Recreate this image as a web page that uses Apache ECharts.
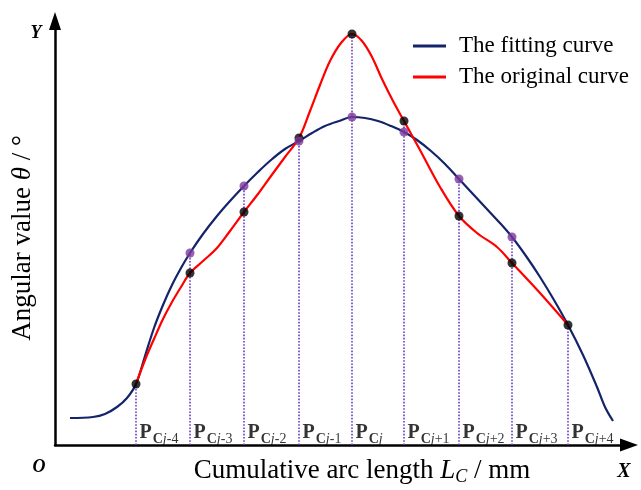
<!DOCTYPE html>
<html>
<head>
<meta charset="utf-8">
<script src="https://cdn.jsdelivr.net/npm/echarts@6/dist/echarts.min.js"></script>
<style>html,body{margin:0;padding:0;background:#fff;}#c{width:641px;height:490px;}</style>
</head>
<body>
<div id="c"></div>
<script>
// Knot positions along the arc (schematic units) and curve values at the knots
const knotX = [81, 135, 189, 244, 297, 349, 404, 457, 513];
const originalAtKnots = [61, 172, 233, 307, 411, 324, 229, 182, 120];
const fittingAtKnots = [61, 192, 259, 304, 328, 313, 266, 208, 120];
const knotSuffix = ['-4', '-3', '-2', '-1', '', '+1', '+2', '+3', '+4'];

// The fitting curve (schematic samples)
const fittingX = [15, 38, 50, 62, 72, 81, 90, 99, 108, 117, 126, 135, 148, 162, 175, 189, 203, 216, 230, 244, 257, 270, 284, 297, 310, 323, 336, 349, 362, 376, 390, 404, 417, 430, 444, 457, 471, 485, 499, 513, 528, 542, 550, 558];
const fittingY = [27, 28, 31, 38, 47, 61, 89, 117, 140, 160, 177, 192, 211, 229, 244, 259, 273, 285, 296, 304, 312, 319, 324, 328, 327, 324, 319, 313, 305, 294, 281, 266, 252, 238, 223, 208, 189, 168, 145, 120, 90, 58, 38, 24];

// The original curve (schematic samples)
const originalX = [81, 90, 99, 108, 117, 126, 135, 148, 162, 175, 189, 203, 216, 230, 244, 255, 265, 275, 286, 297, 307, 317, 327, 338, 349, 365, 385, 404, 422, 442, 457, 485, 513];
const originalY = [61, 85, 106, 126, 143, 158, 172, 184, 197, 214, 233, 251, 269, 288, 307, 334, 360, 384, 402, 411, 404, 388, 366, 344, 324, 295, 258, 229, 212, 198, 182, 152, 120];

const legendNames = ['The fitting curve', 'The original curve'];

const SERIF = '"Liberation Serif", "Times New Roman", serif';
const zip = (xs, ys) => xs.map((x, i) => [x, ys[i]]);

const chart = echarts.init(document.getElementById('c'), null, {renderer: 'canvas'});

const dotted = knotX.map((x, i) => [
  {coord: [x, 0]},
  {coord: [x, Math.max(originalAtKnots[i], fittingAtKnots[i])]}
]);

const purpleIdx = [1, 2, 3, 4, 5, 6, 7];

chart.setOption({
  animation: false,
  backgroundColor: '#fff',
  grid: {left: 55, right: 12, top: 21, bottom: 45},
  xAxis: {
    type: 'value', min: 0, max: 574,
    axisLine: {show: true, lineStyle: {color: '#000', width: 2.5}, symbol: ['none', 'triangle'], symbolSize: [13, 18]},
    axisTick: {show: false}, axisLabel: {show: false}, splitLine: {show: false}
  },
  yAxis: {
    type: 'value', min: 0, max: 424,
    axisLine: {show: true, lineStyle: {color: '#000', width: 2.5}, symbol: ['none', 'triangle'], symbolSize: [12, 18]},
    axisTick: {show: false}, axisLabel: {show: false}, splitLine: {show: false}
  },
  legend: {
    data: legendNames,
    orient: 'vertical', left: 408, top: 29,
    icon: 'rect', itemWidth: 33, itemHeight: 3, itemGap: 7,
    textStyle: {fontFamily: SERIF, fontSize: 23, color: '#000', lineHeight: 24, padding: [0, 0, 0, 8]}
  },
  series: [
    {
      type: 'line', name: 'guides', data: [], silent: true, z: 1,
      markLine: {
        silent: true, symbol: ['none', 'none'], label: {show: false},
        lineStyle: {type: 'dotted', color: '#6a3cc0', width: 1.6},
        data: dotted
      }
    },
    {
      type: 'line', name: legendNames[0], data: zip(fittingX, fittingY),
      smooth: 0.35, showSymbol: false, z: 3,
      lineStyle: {color: '#14246b', width: 2.2}, itemStyle: {color: '#14246b'}
    },
    {
      type: 'line', name: legendNames[1], data: zip(originalX, originalY),
      smooth: 0.35, showSymbol: false, z: 3,
      lineStyle: {color: '#ff0000', width: 2.2}, itemStyle: {color: '#ff0000'}
    },
    {
      type: 'scatter', name: 'original knots', data: zip(knotX, originalAtKnots),
      symbolSize: 9, z: 5, itemStyle: {color: '#000'}
    },
    {
      type: 'scatter', name: 'fitting knots', data: purpleIdx.map(i => [knotX[i], fittingAtKnots[i]]),
      symbolSize: 9, z: 6, itemStyle: {color: '#7a3a9c'}
    },
    {
      type: 'scatter', name: 'knot labels', data: knotX.map(x => [x, 13]),
      symbolSize: 1, itemStyle: {color: 'rgba(0,0,0,0)'}, silent: true, z: 7,
      label: {
        show: true, position: 'right', distance: 3,
        formatter: p => '{p|P}{c|C}{j|j}{n|' + knotSuffix[p.dataIndex] + '}',
        rich: {
          p: {fontFamily: SERIF, fontWeight: 'bold', fontSize: 20, color: '#000', lineHeight: 22, verticalAlign: 'bottom'},
          c: {fontFamily: SERIF, fontWeight: 'bold', fontSize: 14, color: '#000', lineHeight: 14, verticalAlign: 'bottom', padding: [0, 0, -3, 1]},
          j: {fontFamily: SERIF, fontStyle: 'italic', fontSize: 14, color: '#000', lineHeight: 14, verticalAlign: 'bottom', padding: [0, 0, -3, 0]},
          n: {fontFamily: SERIF, fontSize: 14, color: '#000', lineHeight: 14, verticalAlign: 'bottom', padding: [0, 0, -3, 0]}
        }
      }
    }
  ],
  graphic: [
    {type: 'text', x: 362, y: 471, style: {
      text: 'Cumulative arc length {i|L}{s|C} / mm', align: 'center', verticalAlign: 'middle',
      font: '27px ' + SERIF, fill: '#000',
      rich: {i: {fontFamily: SERIF, fontStyle: 'italic', fontSize: 27}, s: {fontFamily: SERIF, fontStyle: 'italic', fontSize: 18, padding: [12, 0, 0, 0]}}
    }},
    {type: 'text', x: 23, y: 238, rotation: Math.PI / 2, style: {
      text: 'Angular value {i|θ} / °', align: 'center', verticalAlign: 'middle',
      font: '27px ' + SERIF, fill: '#000',
      rich: {i: {fontFamily: SERIF, fontStyle: 'italic', fontSize: 27}}
    }},
    {type: 'text', x: 36, y: 33, style: {text: 'Y', align: 'center', verticalAlign: 'middle', font: 'italic bold 18px ' + SERIF, fill: '#000'}},
    {type: 'text', x: 39, y: 467, style: {text: 'O', align: 'center', verticalAlign: 'middle', font: 'italic bold 18px ' + SERIF, fill: '#000'}},
    {type: 'text', x: 624, y: 472, style: {text: 'X', align: 'center', verticalAlign: 'middle', font: 'italic bold 20px ' + SERIF, fill: '#000'}}
  ]
});
</script>
</body>
</html>
